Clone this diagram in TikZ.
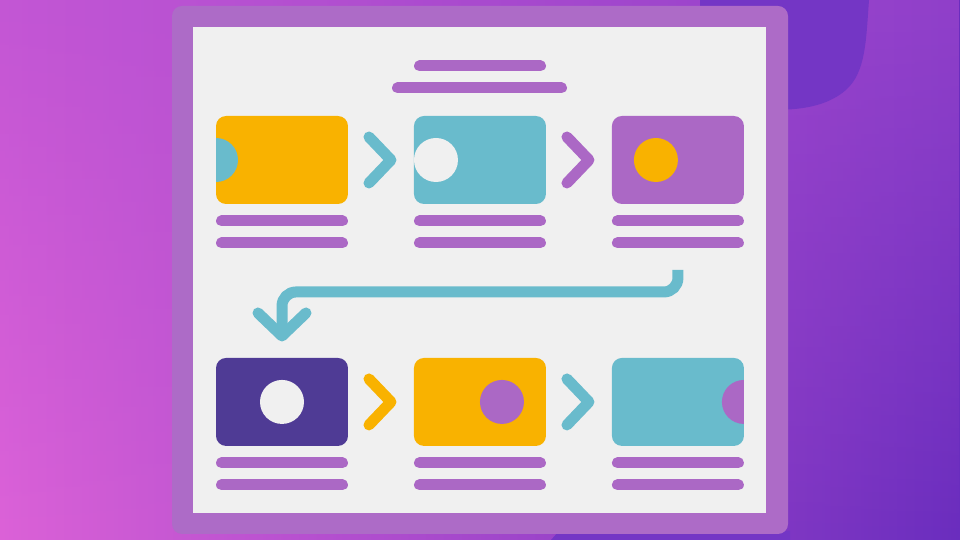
\documentclass[tikz,border=0pt]{standalone}
\usetikzlibrary{positioning,calc,fadings}
\definecolor{bgleft}{HTML}{DC62D8}
\definecolor{bgmid}{HTML}{A445CC}
\definecolor{bgright}{HTML}{6A2DBE}
\definecolor{topleft}{HTML}{C356D4}
\definecolor{topmid}{HTML}{A64AD0}
\definecolor{topright}{HTML}{9040CA}
\definecolor{blob}{HTML}{7436C5}
\definecolor{framec}{HTML}{AD6BC7}
\definecolor{paper}{HTML}{F0F0F0}
\definecolor{cyellow}{HTML}{F9B200}
\definecolor{cteal}{HTML}{69BBCC}
\definecolor{cpurp}{HTML}{AB68C5}
\definecolor{cdark}{HTML}{4F3B95}
\tikzfading[name=fade down, top color=transparent!0, bottom color=transparent!100]
\begin{document}
\begin{tikzpicture}
[x=0.02cm, y=0.02cm,
card/.style={rectangle, rounded corners=0.2cm, minimum width=2.64cm,
             minimum height=1.76cm, inner sep=0pt, outer sep=0pt},
node distance=1.32cm
]
\tikzset{bar/.style={line width=0.22cm, line cap=round, cpurp},
         chev/.style={line width=0.22cm, line cap=round, line join=round},
         flow/.style={line width=0.22cm, cteal, rounded corners=0.28cm}}
\useasboundingbox (0,0) rectangle (960,540);
% background
\shade[left color=bgleft, middle color=bgmid, right color=bgright] (0,0) rectangle (960,540);
\shade[left color=topleft, middle color=topmid, right color=topright, path fading=fade down]
    (0,0) rectangle (960,540);
\fill[blob] (700,540) -- (869,540) .. controls (866,500) and (866,468) .. (846,450)
    .. controls (826,433) and (800,430) .. (770,430) -- (700,430) -- cycle;
\fill[blob] (551,0) -- (559,9) -- (790,9) -- (790,0) -- cycle;
% board
\fill[framec, rounded corners=0.2cm] (172,6) rectangle (788,534);
\fill[paper] (193,27) rectangle (766,513);
\draw[bar] (419.5,474) -- (540.5,474);
\draw[bar] (397.5,452) -- (561.5,452);
% cards
\node[card, fill=cyellow, path picture={
    \fill[cteal] (path picture bounding box.west) circle (22);}] (card1) at (282,380) {};
\node[card, fill=cteal, right=of card1, path picture={
    \fill[paper] ([xshift=0.44cm]path picture bounding box.west) circle (22);}] (card2) {};
\node[card, fill=cpurp, right=of card2, path picture={
    \fill[cyellow] ([xshift=0.88cm]path picture bounding box.west) circle (22);}] (card3) {};
\node[card, fill=cdark, below=3.08cm of card1, path picture={
    \fill[paper] (path picture bounding box.center) circle (22);}] (card4) {};
\node[card, fill=cyellow, right=of card4, path picture={
    \fill[cpurp] ([xshift=0.44cm]path picture bounding box.center) circle (22);}] (card5) {};
\node[card, fill=cteal, right=of card5, path picture={
    \fill[cpurp] (path picture bounding box.east) circle (22);}] (card6) {};
\foreach \c in {card1,card2,card3,card4,card5,card6} {
    \draw[bar] ([shift={(5.5,-17)}]\c.south west) -- ([shift={(-5.5,-17)}]\c.south east);
    \draw[bar] ([shift={(5.5,-39)}]\c.south west) -- ([shift={(-5.5,-39)}]\c.south east);
}
% chevrons
\foreach \a/\b/\col in {card1/card2/cteal, card2/card3/cpurp,
                        card4/card5/cyellow, card5/card6/cteal}
    \draw[chev, \col] ($(\a.east)!0.5!(\b.west)+(-12,23)$) -- ++(22,-23) -- ++(-22,-23);
% return arrow
\coordinate (tip) at ([yshift=0.44cm]card4.north);
\draw[flow] ([yshift=-1.32cm]card3.south) -- ++(0,-22) -| (tip);
\draw[chev, cteal] ([shift={(-24,23)}]tip) -- (tip) -- ++(24,23);
\end{tikzpicture}
\end{document}
